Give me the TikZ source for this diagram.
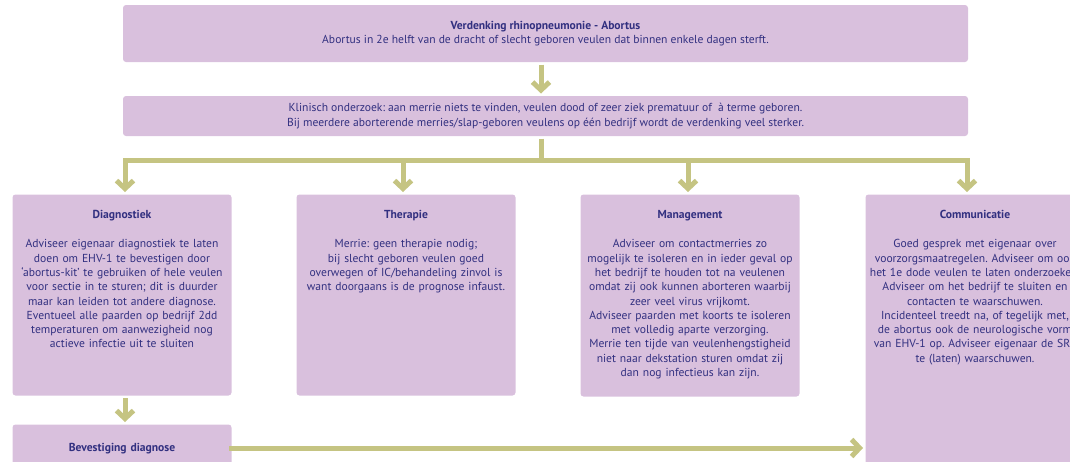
\documentclass[tikz,border=0pt]{standalone}
\usepackage{fontspec}
\setmainfont{PT Sans}
\usepackage{tikz}
\usetikzlibrary{arrows.meta,positioning}
\definecolor{lila}{RGB}{217,192,221}
\definecolor{olijf}{RGB}{197,196,130}
\definecolor{inkt}{RGB}{50,48,128}
\frenchspacing
\newcommand{\breed}[1]{\makebox[\linewidth][c]{#1}}

\begin{document}
\begin{tikzpicture}[x=1pt,y=-1pt,->,>={Straight Barb[length=8pt,width=17pt]},line width=5pt,color=olijf,node distance=30pt]
	\tikzstyle{every node}=[font=\fontsize{11.6}{14.3}\selectfont,text=inkt]
	\tikzstyle{vak}=[fill=lila,draw=none,rounded corners=3pt,align=center,inner sep=0pt]
	\tikzstyle{kolom}=[vak,anchor=north west,text width=209pt,inner xsep=5pt,text height=24pt]

	\useasboundingbox (0,0) rectangle (1070,461);
	\clip (0,0) rectangle (1070,461);

	\node[vak,minimum width=845pt,minimum height=57pt] (top) at (545.5,33.5)
		{\textbf{Verdenking rhinopneumonie - Abortus}\\Abortus in 2e helft van de dracht of slecht geboren veulen dat binnen enkele dagen sterft.};
	\node[vak,minimum width=845pt,minimum height=40pt] (klin) [below=29pt of top]
		{Klinisch onderzoek: aan merrie niets te vinden, veulen dood of zeer ziek prematuur of~ à terme geboren.\\Bij meerdere aborterende merries/slap-geboren veulens op één bedrijf wordt de verdenking veel sterker.};

	\node[kolom,text depth=177pt] (diag) at (10,192)
		{\textbf{Diagnostiek}\\[15pt]Adviseer eigenaar diagnostiek te laten\\doen om EHV-1 te bevestigen door\\‘abortus-kit’ te gebruiken of hele veulen\\voor sectie in te sturen; dit is duurder\\maar kan leiden tot andere diagnose.\\Eventueel alle paarden op bedrijf 2dd\\temperaturen om aanwezigheid nog\\actieve infectie uit te sluiten};
	\node[kolom,text depth=177pt] (ther) at (294,192)
		{\textbf{Therapie}\\[15pt]Merrie: geen therapie nodig;\\bij slecht geboren veulen goed\\overwegen of IC/behandeling zinvol is\\want doorgaans is de prognose infaust.};
	\node[kolom,text depth=178pt] (man) at (578,192)
		{\textbf{Management}\\[15pt]Adviseer om contactmerries zo\\mogelijk te isoleren en in ieder geval op\\het bedrijf te houden tot na veulenen\\omdat zij ook kunnen aborteren waarbij\\zeer veel virus vrijkomt.\\Adviseer paarden met koorts te isoleren\\met volledig aparte verzorging.\\Merrie ten tijde van veulenhengstigheid\\niet naar dekstation sturen omdat zij\\dan nog infectieus kan zijn.};
	\node[kolom,text depth=300pt] (comm) at (863,192)
		{\textbf{Communicatie}\\[15pt]Goed gesprek met eigenaar over\\\breed{voorzorgsmaatregelen. Adviseer om ook}\\\breed{het 1e dode veulen te laten onderzoeken.}\\Adviseer om het bedrijf te sluiten en\\contacten te waarschuwen.\\Incidenteel treedt na, of tegelijk met,\\de abortus ook de neurologische vorm\\\breed{van EHV-1 op. Adviseer eigenaar de SRF}\\te (laten) waarschuwen.};
	\node[kolom,text height=27pt,text depth=50pt] (bev) at (10,422)
		{\textbf{Bevestiging diagnose}};

	% vertakking
	\coordinate (s)  at (541,160);
	\coordinate (d1) at (125,160);
	\coordinate (d2) at (403,160);
	\coordinate (d3) at (688,160);
	\coordinate (d4) at (967,160);
	\coordinate (b)  at (229,448);

	\path (top.south -| s) edge (klin.north -| s);
	\draw[-] (klin.south -| s) -- (s);
	\draw[<->] (d1 |- diag.north) -- (d1) -- (d4) -- (d4 |- comm.north);
	\path (d2) edge (d2 |- ther.north)
	      (d3) edge (d3 |- man.north)
	      (diag.south -| d1) edge (bev.north -| d1)
	      (b) edge (b -| comm.west);
\end{tikzpicture}
\end{document}
